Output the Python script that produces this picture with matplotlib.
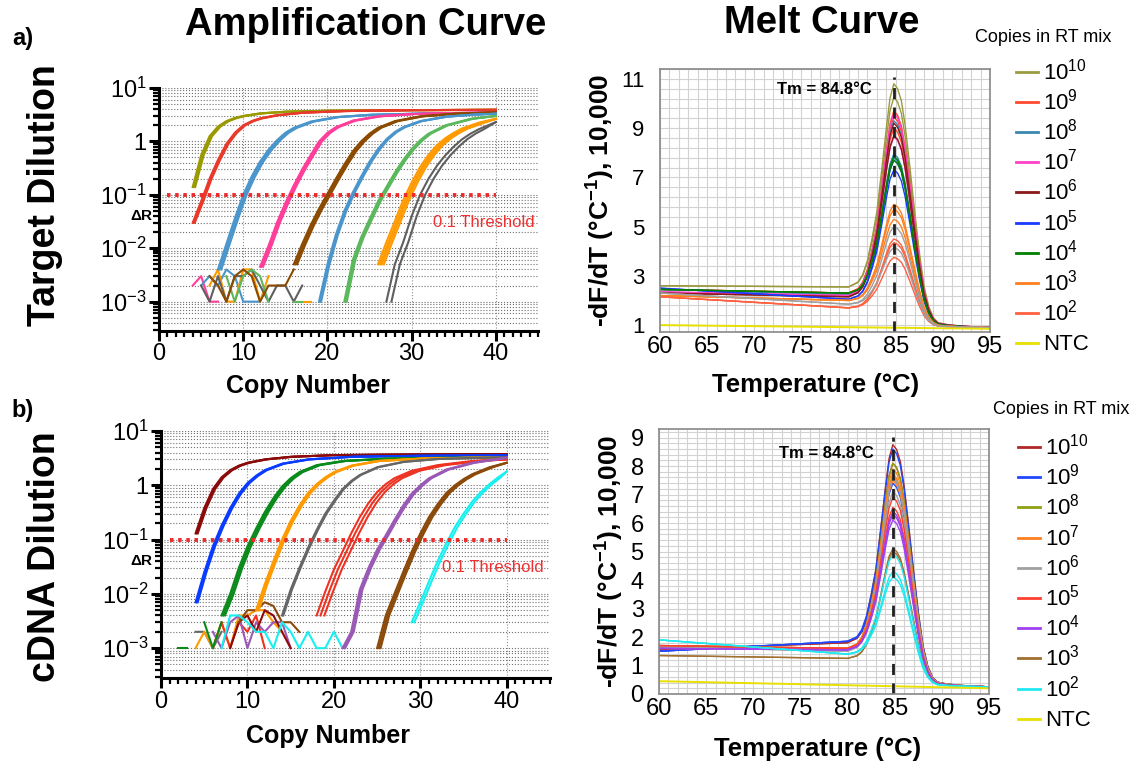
import numpy as np
import matplotlib
matplotlib.use("Agg")
import matplotlib.pyplot as plt
from matplotlib.lines import Line2D
from matplotlib.ticker import FixedLocator, FixedFormatter, MultipleLocator

plt.rcParams['font.family'] = ['Liberation Sans', 'DejaVu Sans']
plt.rcParams['mathtext.fontset'] = 'custom'
plt.rcParams['mathtext.rm'] = 'Liberation Sans'
plt.rcParams['mathtext.it'] = 'Liberation Sans:italic'
plt.rcParams['mathtext.bf'] = 'Liberation Sans:bold'

## amplification data: one representative run per dilution + replicate offsets (cycles)

dil_labels = [r'$10^{10}$', r'$10^{9}$', r'$10^{8}$', r'$10^{7}$', r'$10^{6}$',
              r'$10^{5}$', r'$10^{4}$', r'$10^{3}$', r'$10^{2}$', 'NTC']

top_amp_colors = ['#9a9a00', '#e8392a', '#4a96cc', '#ff3d9a', '#8b4a00',
                  '#4a96cc', '#5cb85c', '#ff9a00', '#5f5f5f']
top_amp_cycles = [
    [4, 5, 6, 7, 8, 9, 10, 12, 15, 20, 30, 40],
    [4, 5, 6, 7, 8, 9, 10, 11, 12, 14, 17, 22, 30, 40],
    [7, 8, 9, 10, 11, 12, 13, 14, 15, 16, 18, 21, 25, 32, 40],
    [12, 13, 14, 15, 16, 17, 18, 19, 20, 21, 23, 26, 30, 35, 40],
    [16, 17, 18, 19, 20, 21, 22, 23, 24, 25, 26, 28, 31, 35, 40],
    [19, 20, 21, 22, 23, 24, 25, 26, 27, 28, 29, 31, 34, 37, 40],
    [22, 23, 24, 25, 26, 27, 28, 29, 30, 31, 32, 34, 37, 40],
    [26, 27, 28, 29, 30, 31, 32, 33, 34, 35, 36, 38, 40],
    [27, 28, 29, 30, 31, 32, 33, 34, 35, 36, 37, 38, 40],
]
top_amp_dr = [
    [0.14, 0.55, 1.25, 1.9, 2.4, 2.75, 3.0, 3.35, 3.6, 3.75, 3.85, 3.9],
    [0.03, 0.075, 0.2, 0.45, 0.9, 1.45, 2.0, 2.4, 2.7, 3.1, 3.45, 3.7, 3.85, 3.9],
    [0.004, 0.012, 0.036, 0.1, 0.22, 0.42, 0.7, 1.05, 1.45, 1.8, 2.35, 2.85, 3.15, 3.35, 3.45],
    [0.0045, 0.011, 0.03, 0.07, 0.15, 0.3, 0.55, 1.0, 1.45, 1.85, 2.45, 2.95, 3.25, 3.4, 3.5],
    [0.005, 0.012, 0.027, 0.055, 0.105, 0.2, 0.37, 0.65, 1.0, 1.4, 1.8, 2.4, 2.95, 3.3, 3.5],
    [0.001, 0.005, 0.018, 0.05, 0.11, 0.22, 0.42, 0.72, 1.1, 1.5, 1.85, 2.4, 2.9, 3.15, 3.3],
    [0.001, 0.006, 0.016, 0.035, 0.075, 0.14, 0.26, 0.45, 0.72, 1.05, 1.4, 2.0, 2.65, 3.0],
    [0.005, 0.013, 0.032, 0.08, 0.17, 0.33, 0.56, 0.85, 1.15, 1.45, 1.75, 2.25, 2.65],
    [0.001, 0.005, 0.013, 0.04, 0.1, 0.2, 0.35, 0.55, 0.8, 1.1, 1.4, 1.7, 2.3],
]
top_amp_shift = [[0, 0.15, 0.3], [0, 0.12, 0.25], [0, 0.2, 0.4], [0, 0.15, 0.35],
                 [0, 0.2, 0.4], [0, 0.12, 0.25], [0, 0.15, 0.3], [0, 0.25, 0.45, 0.7],
                 [0, 0.6]]

# baseline noise before take-off
top_noise_colors = ['#ff3d9a', '#4a96cc', '#ff9a00', '#5f5f5f', '#5cb85c',
                    '#8b4a00', '#ff9a00', '#5cb85c']
top_noise_start = [4, 5, 6, 5, 8, 6, 16, 16]
top_noise_dr = [
    [0.002, 0.003, 0.001, 0.001],
    [0.002, 0.003, 0.002, 0.004, 0.003, 0.001, 0.001, 0.001],
    [0.002, 0.004, 0.001, 0.001, 0.004, 0.004, 0.001, 0.003],
    [0.002, 0.001, 0.003, 0.001, 0.003, 0.003, 0.004, 0.002, 0.001, 0.002, 0.002, 0.001, 0.002],
    [0.003, 0.001, 0.003, 0.004, 0.003, 0.001],
    [0.003, 0.002, 0.001, 0.003, 0.004, 0.003, 0.001, 0.002, 0.002, 0.002, 0.004],
    [0.001, 0.001, 0.001],
    [0.001, 0.001],
]

bot_amp_colors = ['#8b0a0a', '#0a3cff', '#0a8a1a', '#ff9a00', '#666666',
                  '#ee3322', '#9b59b6', '#8b4a0a', '#18f0f0']
bot_amp_cycles = [
    [4, 5, 6, 7, 8, 9, 10, 12, 15, 20, 30, 40],
    [4, 5, 6, 7, 8, 9, 10, 11, 12, 14, 17, 22, 30, 40],
    [7, 8, 9, 10, 11, 12, 13, 14, 15, 16, 18, 21, 26, 32, 40],
    [11, 12, 13, 14, 15, 16, 17, 18, 19, 20, 22, 25, 30, 35, 40],
    [14, 15, 16, 17, 18, 19, 20, 21, 22, 23, 25, 28, 32, 40],
    [18, 19, 20, 21, 22, 23, 24, 25, 26, 27, 29, 32, 36, 40],
    [21, 22, 23, 24, 25, 26, 27, 28, 29, 30, 31, 33, 36, 40],
    [25, 26, 27, 28, 29, 30, 31, 32, 33, 34, 35, 36, 38, 40],
    [29, 30, 31, 32, 33, 34, 35, 36, 37, 38, 39, 40],
]
bot_amp_dr = [
    [0.13, 0.38, 0.85, 1.4, 1.9, 2.3, 2.6, 3.0, 3.35, 3.6, 3.7, 3.75],
    [0.007, 0.025, 0.075, 0.18, 0.38, 0.7, 1.1, 1.5, 1.9, 2.5, 3.0, 3.35, 3.5, 3.55],
    [0.004, 0.01, 0.03, 0.075, 0.16, 0.32, 0.58, 0.95, 1.35, 1.75, 2.35, 2.8, 3.1, 3.2, 3.2],
    [0.005, 0.015, 0.04, 0.1, 0.22, 0.42, 0.72, 1.05, 1.4, 1.75, 2.3, 2.8, 3.1, 3.2, 3.25],
    [0.004, 0.012, 0.03, 0.07, 0.15, 0.3, 0.52, 0.85, 1.2, 1.55, 2.15, 2.7, 3.05, 3.3],
    [0.004, 0.011, 0.028, 0.06, 0.13, 0.26, 0.47, 0.75, 1.05, 1.35, 1.85, 2.35, 2.8, 3.0],
    [0.001, 0.002, 0.012, 0.03, 0.065, 0.12, 0.23, 0.42, 0.7, 1.0, 1.35, 1.95, 2.6, 3.2],
    [0.001, 0.004, 0.01, 0.025, 0.06, 0.13, 0.26, 0.45, 0.72, 1.0, 1.3, 1.6, 2.15, 2.6],
    [0.003, 0.007, 0.017, 0.04, 0.085, 0.17, 0.3, 0.5, 0.75, 1.05, 1.4, 1.8],
]
bot_amp_shift = [[0, 0.12, 0.25], [0, 0.12, 0.25], [0, 0.2, 0.4], [0, 0.15, 0.3],
                 [0, 0.15], [0, 0.45, 0.9], [0, 0.15, 0.3], [0, 0.2, 0.4], [0, 0.3]]

bot_noise_colors = ['#0a8a1a', '#666666', '#ff9a00', '#ee3322', '#9b59b6',
                    '#8b0a0a', '#8b4a0a', '#18f0f0', '#0a8a1a']
bot_noise_start = [2, 4, 4, 6, 6, 8, 9, 7, 5]
bot_noise_dr = [
    [0.001, 0.001],
    [0.002, 0.002, 0.001, 0.002],
    [0.001, 0.002, 0.001, 0.003, 0.001, 0.004, 0.004, 0.005, 0.005, 0.003, 0.002],
    [0.001, 0.003, 0.001, 0.003, 0.002, 0.004, 0.001],
    [0.002, 0.001, 0.003, 0.004, 0.001, 0.003, 0.002, 0.003, 0.003, 0.001],
    [0.001, 0.003, 0.004, 0.002, 0.005, 0.004, 0.002, 0.001],
    [0.003, 0.005, 0.005, 0.007, 0.006, 0.003, 0.003, 0.002],
    [0.001, 0.004, 0.004, 0.003, 0.002, 0.002, 0.001, 0.003, 0.002, 0.001, 0.002,
     0.001, 0.001, 0.002, 0.001],
    [0.003, 0.001, 0.003],
]

threshold = 0.1

## melt data: peak heights per replicate, baseline at 60 and 80 C, shared peak profile

melt_rise_t = [81, 81.5, 82, 82.5, 83, 83.5, 84, 84.4]
melt_rise_f = [0.024, 0.06, 0.13, 0.24, 0.37, 0.57, 0.78, 0.93]
tm = 84.8
melt_fall_t = [85.2, 85.6, 86, 86.5, 87, 87.5, 88, 88.5, 89, 89.5, 90.5, 92, 95]
melt_fall_f = [0.98, 0.93, 0.83, 0.66, 0.48, 0.31, 0.17, 0.086, 0.04, 0.02, 0.012, 0.006, 0.0]

top_melt_colors = ['#9a9a40', '#ff4a30', '#3a88b0', '#ff40c8', '#8b1a1a',
                   '#1a3aff', '#008000', '#ff8020', '#ff6040', '#a0a0a0']
top_melt_peaks = [[10.8, 10.25], [9.7, 9.45, 9.0], [9.3, 7.95, 7.8], [9.6, 8.65],
                  [8.7, 9.2], [7.7, 7.3], [7.85, 7.7], [5.9, 5.7, 5.3],
                  [4.5, 4.35, 3.75], [5.0, 4.15]]
top_melt_b60 = [2.6, 2.45, 2.45, 2.35, 2.3, 2.5, 2.45, 2.2, 2.15, 2.3]
top_melt_b80 = [2.55, 2.3, 2.25, 2.2, 2.15, 2.05, 2.3, 2.0, 1.7, 1.85]
top_melt_tail = 0.9
top_ntc = [1.0, 0.85]

bot_melt_colors = ['#b02828', '#2048ff', '#8fa010', '#ff8020', '#a0a0a0',
                   '#ff4030', '#a040f0', '#a07030', '#20e8f0']
bot_melt_peaks = [[8.75, 8.1], [8.6, 7.4, 7.6], [8.1, 7.7], [7.9, 7.7, 7.5],
                  [7.6, 7.1], [6.55, 6.9], [6.3, 6.1, 6.4], [5.1, 5.0],
                  [4.9, 4.3, 4.1]]
bot_melt_b60 = [1.55, 1.5, 1.7, 1.6, 1.65, 1.7, 1.6, 1.35, 1.9]
bot_melt_b80 = [1.8, 1.85, 1.6, 1.6, 1.5, 1.6, 1.55, 1.25, 1.4]
bot_melt_tail = 0.25
bot_ntc = [0.45, 0.2]

ntc_color = '#e8e000'

W, H = 1141, 765
fig = plt.figure(figsize=(W / 100, H / 100), dpi=100)


def box(l, t, r, b):
    return [l / W, 1 - b / H, (r - l) / W, (b - t) / H]


def amp_panel(rect, colors, cycles, dr, shifts, ncol, nstart, nvals, label_x, label_y):
    ax = fig.add_axes(rect)
    for c, s, v in zip(ncol, nstart, nvals):
        ax.plot(np.arange(s, s + len(v)), v, color=c, lw=1.5)
    for col, x, y, sh in zip(colors, cycles, dr, shifts):
        for d in sh:
            ax.plot(np.clip(np.array(x) + d, None, 40), y, color=col, lw=1.5)
    ax.plot([1, 40], [threshold, threshold], color='#ee2a2a', lw=2.8,
            dashes=(0.9, 1.2), dash_capstyle='butt')
    ax.text(32.5, 0.03, '0.1 Threshold', color='#ee3030', fontsize=12,
            va='center', ha='left', clip_on=False)
    ax.set_yscale('log')
    ax.set_ylim(10 ** -3.55, 10)
    ax.set_xlim(0, 45)
    majors = [1e-3, 1e-2, 1e-1, 1, 10]
    ax.yaxis.set_major_locator(FixedLocator(majors))
    ax.yaxis.set_major_formatter(FixedFormatter(
        [r'$10^{-3}$', r'$10^{-2}$', r'$10^{-1}$', '1', r'$10^{1}$']))
    minors = [m * 10.0 ** k for k in range(-4, 1) for m in range(2, 10)]
    minors = [v for v in minors if v > 10 ** -3.55]
    ax.yaxis.set_minor_locator(FixedLocator(minors))
    ax.xaxis.set_major_locator(MultipleLocator(10))
    ax.xaxis.set_minor_locator(MultipleLocator(1))
    ax.grid(True, which='both', axis='y', ls=':', color='#707070', lw=0.8)
    ax.grid(True, which='major', axis='x', ls=':', color='#909090', lw=0.8)
    for s in ['top', 'right']:
        ax.spines[s].set_visible(False)
    for s in ['left', 'bottom']:
        ax.spines[s].set_linewidth(2.2)
    ax.tick_params(which='major', length=7, width=2.2, labelsize=17, pad=2)
    ax.tick_params(axis='x', which='major', labelsize=17)
    ax.tick_params(which='minor', length=4, width=1.6)
    ax.set_xlabel('Copy Number', fontsize=18, fontweight='bold')
    ax.xaxis.set_label_coords(label_x, label_y)
    return ax


def melt_panel(rect, colors, peaks, b60, b80, tail, ntc, ylim, yticks, ystep,
               ticksize, label_x, label_y):
    ax = fig.add_axes(rect)
    for col, pk, a, b in zip(colors, peaks, b60, b80):
        for p in pk:
            t = [60, 80] + melt_rise_t + [tm] + melt_fall_t
            y = ([a, b] + [b + (p - b) * f for f in melt_rise_f] + [p]
                 + [tail + (p - tail) * f for f in melt_fall_f])
            ax.plot(t, y, color=col, lw=1.0)
    ax.plot([60, 95], ntc, color=ntc_color, lw=1.4)
    ax.set_xlim(60, 95)
    ax.set_ylim(*ylim)
    ax.axvline(tm, color='#202020', lw=2, dashes=(4, 3), ymax=0.97)
    ax.set_xticks(range(60, 96, 5))
    ax.set_yticks(yticks)
    ax.xaxis.set_minor_locator(MultipleLocator(1))
    ax.yaxis.set_minor_locator(FixedLocator(np.arange(yticks[0], ylim[1] + 0.01, ystep)))
    ax.grid(True, which='both', color='#d2d2d2', lw=0.8)
    ax.set_axisbelow(True)
    for s in ax.spines.values():
        s.set_color('#888888')
        s.set_linewidth(1.2)
    ax.tick_params(which='both', length=0)
    ax.tick_params(axis='y', labelsize=ticksize, pad=11)
    ax.tick_params(axis='x', labelsize=17, pad=3)
    ax.set_xlabel('Temperature (°C)', fontsize=18.5, fontweight='bold')
    ax.xaxis.set_label_coords(label_x, label_y)
    ax.set_ylabel(r'-dF/dT (°C$^{\mathbf{-1}}$), 10,000', fontsize=19,
                  fontweight='bold', labelpad=3)
    return ax


def legend(colors, x0, x1, xt, y0, step):
    for i, lab in enumerate(dil_labels):
        y = y0 + i * step
        col = colors[i] if i < 9 else ntc_color
        fig.add_artist(Line2D([x0 / W, x1 / W], [1 - y / H, 1 - y / H], color=col, lw=2))
        fig.text(xt / W, 1 - (y + 7.5) / H, lab, fontsize=16, va='baseline', ha='left')


# a) target dilution
amp_panel(box(159, 88, 538, 331), top_amp_colors, top_amp_cycles, top_amp_dr,
          top_amp_shift, top_noise_colors, top_noise_start, top_noise_dr, 0.393, -0.175)
ax_m1 = melt_panel(box(660, 69, 990, 332), top_melt_colors, top_melt_peaks,
                   top_melt_b60, top_melt_b80, top_melt_tail, top_ntc,
                   (0.72, 11.4), [1, 3, 5, 7, 9, 11], 0.4, 16, 0.47, -0.155)
ax_m1.text(77.4, 10.55, 'Tm = 84.8°C', fontsize=12, fontweight='bold', ha='center', va='center')
legend(top_melt_colors, 1016, 1038, 1043, 72, 30.1)

# b) cDNA dilution
amp_panel(box(161, 431, 550, 678), bot_amp_colors, bot_amp_cycles, bot_amp_dr,
          bot_amp_shift, bot_noise_colors, bot_noise_start, bot_noise_dr, 0.43, -0.185)
ax_m2 = melt_panel(box(659, 429, 989, 694), bot_melt_colors, bot_melt_peaks,
                   bot_melt_b60, bot_melt_b80, bot_melt_tail, bot_ntc,
                   (0, 9.3), list(range(0, 10)), 0.2, 17, 0.48, -0.163)
ax_m2.text(77.7, 8.45, 'Tm = 84.8°C', fontsize=12, fontweight='bold', ha='center', va='center')
legend(bot_melt_colors, 1018, 1040, 1045, 447, 30.2)

# headings and side labels
fig.text(366 / W, 1 - 25 / H, 'Amplification Curve', fontsize=27.5, fontweight='bold',
         ha='center', va='center')
fig.text(822 / W, 1 - 23 / H, 'Melt Curve', fontsize=27.5, fontweight='bold',
         ha='center', va='center')
fig.text(23 / W, 1 - 38 / H, 'a)', fontsize=17, fontweight='bold', ha='center', va='center')
fig.text(23 / W, 1 - 410 / H, 'b)', fontsize=17, fontweight='bold', ha='center', va='center')
fig.text(45 / W, 1 - 195 / H, 'Target Dilution', fontsize=27, fontweight='bold',
         rotation=90, ha='center', va='center')
fig.text(45 / W, 1 - 557 / H, 'cDNA Dilution', fontsize=27, fontweight='bold',
         rotation=90, ha='center', va='center')
fig.text(141 / W, 1 - 216 / H, 'ΔR', fontsize=11, fontweight='bold', ha='center', va='center')
fig.text(141 / W, 1 - 561 / H, 'ΔR', fontsize=11, fontweight='bold', ha='center', va='center')
fig.text(975 / W, 1 - 38 / H, 'Copies in RT mix', fontsize=13, ha='left', va='center')
fig.text(993 / W, 1 - 410 / H, 'Copies in RT mix', fontsize=13, ha='left', va='center')

fig.savefig('out.png', dpi=100)
